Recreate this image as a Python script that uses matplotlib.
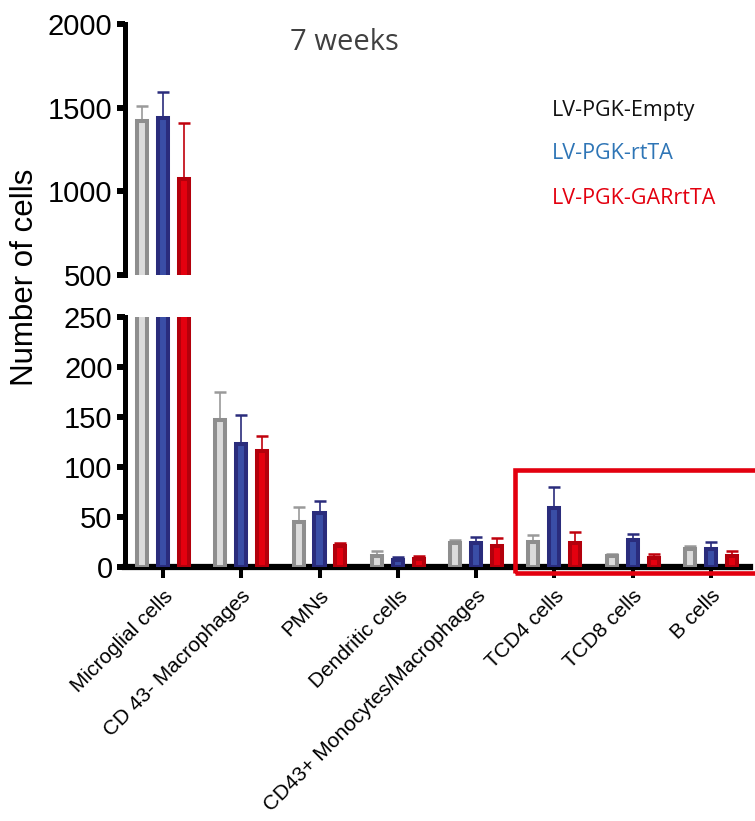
import numpy as np
import matplotlib
matplotlib.use("Agg")
import matplotlib.pyplot as plt
from matplotlib.patches import Rectangle

# values (mean and upper error)
categories = ["Microglial cells", "CD 43- Macrophages", "PMNs", "Dendritic cells",
              "CD43+ Monocytes/Macrophages", "TCD4 cells", "TCD8 cells", "B cells"]
empty = [1422, 147, 45, 11, 24, 25, 11, 18]
empty_err = [90, 28, 15, 5, 3, 7, 2, 3]
rtta = [1440, 123, 54, 7.5, 24.5, 59, 27, 18.5]
rtta_err = [156, 29, 12, 3, 6, 21, 6, 7]
gar = [1074, 116, 21, 8.5, 21, 24, 9, 11]
gar_err = [332, 15, 3, 2.5, 8, 11, 4, 5]
groups = ["LV-PGK-Empty", "LV-PGK-rtTA", "LV-PGK-GARrtTA"]

# (inner fill, outline, error bar colour)
styles = [("#dcdcdc", "#8e8e8e", "#9a9a9a"),
          ("#3a4ea6", "#2a2c7c", "#2a2c7c"),
          ("#e4000f", "#b3000c", "#c0000c")]
legend_colors = ["#111111", "#2e75b6", "#e3000f"]

plt.rcParams['font.family'] = ['Liberation Sans', 'DejaVu Sans']

fig = plt.figure(figsize=(7.55, 8.21), dpi=100)
W, H = 755, 821

def px(l, b, r, t):
    return [l / W, 1 - b / H, (r - l) / W, (b - t) / H]

ax_lo = fig.add_axes(px(125, 567, 750, 317))
ax_hi = fig.add_axes(px(125, 275, 750, 24))

x = np.arange(len(categories))
offs = [-0.268, 0, 0.268]
bw = 0.128
series = [(empty, empty_err), (rtta, rtta_err), (gar, gar_err)]

for ax in (ax_lo, ax_hi):
    for k, (vals, errs) in enumerate(series):
        inner, edge, ecol = styles[k]
        ax.bar(x + offs[k], vals, width=bw, color=inner, edgecolor=edge,
               linewidth=2.9, zorder=3)
        ax.errorbar(x + offs[k], vals, yerr=[np.zeros(len(errs)), errs],
                    fmt='none', ecolor=ecol, elinewidth=1.2, capsize=4,
                    capthick=1.8, zorder=2)
    ax.set_xlim(-0.485, 7.5)
    for s in ("top", "right"):
        ax.spines[s].set_visible(False)
    ax.spines["left"].set_linewidth(3.6)
    ax.tick_params(axis='y', direction='out', length=6, width=4.3,
                   labelsize=21, pad=3)

ax_lo.set_ylim(0, 250)
ax_lo.set_yticks([0, 50, 100, 150, 200, 250])
ax_lo.spines["bottom"].set_linewidth(4.5)
ax_lo.set_xticks(x)
ax_lo.set_xticklabels(categories, rotation=45, ha='right', va='top',
                      rotation_mode='anchor', fontsize=15)
ax_lo.tick_params(axis='x', direction='out', length=8, width=2.9, pad=6)

ax_hi.set_ylim(500, 2000)
ax_hi.set_yticks([500, 1000, 1500, 2000])
ax_hi.spines["bottom"].set_visible(False)
ax_hi.set_xticks([])

fig.text(25 / W, 1 - 277 / H, "Number of cells", rotation=90, ha='center',
         va='center', fontsize=22.5)

fig.text(344 / W, 1 - 43 / H, "7 weeks", ha='center', va='center',
         fontsize=21, color="#404040", family=['Open Sans', 'DejaVu Sans'])

for name, col, yb in zip(groups, legend_colors, [116, 159, 204]):
    fig.text(552 / W, 1 - yb / H, name, ha='left', va='baseline',
             fontsize=15.5, color=col, family=['Open Sans', 'DejaVu Sans'])

# highlight box around the T and B cell groups
fig.patches.append(Rectangle((515 / W, 1 - 573 / H), 260 / W, 103 / H,
                             transform=fig.transFigure, fill=False,
                             edgecolor="#e3000f", linewidth=3.3, zorder=10))

fig.savefig("out.png", dpi=100)
